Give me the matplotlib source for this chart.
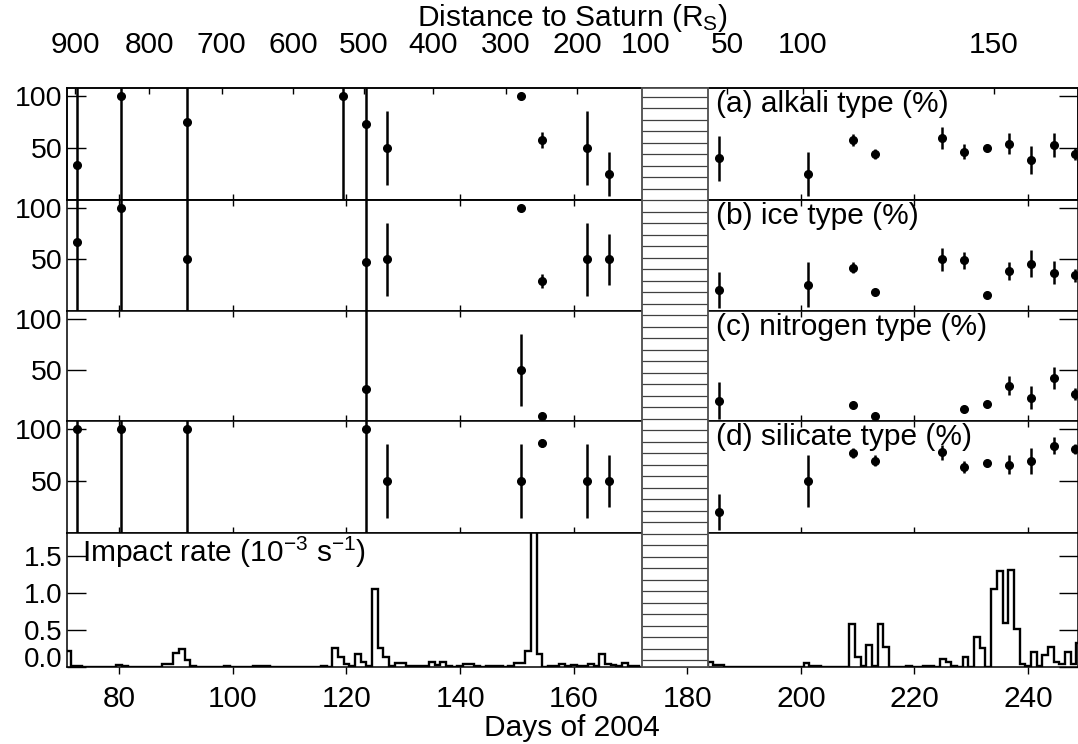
import numpy as np
import matplotlib
matplotlib.use('Agg')
import matplotlib.pyplot as plt

plt.rcParams['font.family'] = ['Liberation Sans', 'DejaVu Sans']
plt.rcParams['mathtext.default'] = 'regular'
plt.rcParams['font.size'] = 21.5
plt.rcParams['axes.linewidth'] = 1.1

# top axis : distance to Saturn (R_S), placed at day positions
dist_days = [72.2, 85.3, 98.0, 110.6, 123.0, 135.3, 148.1, 160.6, 172.6, 187.0, 200.3, 234.0]
dist_labels = ['900', '800', '700', '600', '500', '400', '300', '200', '100', '50', '100', '150']

# (a) alkali type (%)
alk_day = [72.5, 80.3, 92.0, 119.4, 123.4, 127.2, 150.8, 154.4, 162.3, 166.2,
           185.6, 201.3, 209.2, 213.1, 224.9, 228.8, 232.7, 236.6, 240.6, 244.5, 248.2]
alk_val = [33.5, 100, 75, 100, 73, 50, 100, 57.7, 50, 25,
           40, 25, 57.7, 44, 59.4, 46.5, 49.7, 54, 38.4, 53, 44.2]
alk_err = [150, 150, 150, 150, 150, 35.5, 0, 7.5, 35.5, 21.5,
           21.5, 21.5, 5.6, 4.5, 10.3, 6.8, 2.5, 10, 13.7, 11.6, 5.6]

# (b) ice type (%)
ice_day = [72.5, 80.3, 92.0, 123.4, 127.2, 150.8, 154.4, 162.3, 166.2,
           185.6, 201.3, 209.2, 213.1, 224.9, 228.8, 232.7, 236.6, 240.6, 244.5, 248.2]
ice_val = [66.8, 100, 50, 47.4, 50, 100, 29, 50, 50,
           20.3, 25.2, 42, 18.7, 50, 49, 15.2, 38.7, 46, 37, 34.5]
ice_err = [150, 150, 150, 150, 35.5, 0, 6.5, 35.5, 25,
           17.7, 21.8, 5.5, 2, 11, 8, 1.5, 9, 13, 11, 6]

# (c) nitrogen type (%)
nit_day = [123.4, 150.8, 154.4, 185.6, 209.2, 213.1, 228.8, 232.7, 236.6, 240.6, 244.5, 248.2]
nit_val = [31.3, 50, 5, 20, 15.8, 4.5, 11.9, 16.5, 34.5, 22.9, 41.9, 26.5]
nit_err = [150, 35, 1.5, 17.7, 3, 1, 3, 1.5, 9, 11.5, 11, 6]

# (d) silicate type (%)
sil_day = [72.5, 80.3, 92.0, 123.4, 127.2, 150.8, 154.4, 162.3, 166.2,
           185.6, 201.3, 209.2, 213.1, 224.9, 228.8, 232.7, 236.6, 240.6, 244.5, 248.2]
sil_val = [100, 100, 100, 100, 50, 50, 86.5, 50, 50,
           20.3, 50, 76.8, 69.4, 77.4, 63.5, 66.8, 65.5, 69.4, 83.9, 80.6]
sil_err = [150, 150, 150, 150, 35.5, 35.5, 4, 35.5, 25,
           17, 25, 4.5, 5, 7, 6, 2, 9, 12.5, 8, 5]

# impact rate (1e-3 /s), daily bins
rate_day_left = np.arange(71, 172)
rate_left = [0.22, 0.02, 0.01, 0, 0, 0, 0, 0, 0, 0.03,
             0.02, 0, 0, 0, 0, 0, 0, 0.045, 0.045, 0.19,
             0.24, 0.10, 0.01, 0, 0, 0, 0, 0, 0.01, 0,
             0, 0, 0, 0.02, 0.01, 0.015, 0, 0, 0, 0,
             0, 0, 0, 0, 0, 0.01, 0, 0.26, 0.14, 0.04,
             0.015, 0.17, 0.07, 0.01, 1.05, 0.25, 0.13, 0.01, 0.05, 0.05,
             0.02, 0.02, 0.01, 0.01, 0.065, 0.03, 0.065, 0.01, 0, 0.01,
             0.045, 0.045, 0.01, 0, 0.01, 0.02, 0.01, 0, 0.02, 0.055,
             0.055, 0.21, 2.4, 0.18, 0, 0.02, 0.02, 0.045, 0.015, 0.03,
             0.02, 0.02, 0.04, 0.01, 0.17, 0.04, 0.025, 0.02, 0.06, 0.015,
             0.01]
rate_day_right = np.arange(184, 250)
rate_right = [0.07, 0.03, 0.03, 0, 0, 0, 0, 0, 0, 0,
              0, 0, 0, 0, 0, 0, 0, 0.055, 0.02, 0.01,
              0, 0, 0, 0, 0, 0.58, 0.14, 0.01, 0.30, 0.01,
              0.58, 0.27, 0, 0, 0, 0.02, 0, 0, 0.02, 0.02,
              0, 0.11, 0.07, 0.01, 0, 0.13, 0, 0.40, 0.26, 0,
              1.05, 1.30, 0.59, 1.31, 0.52, 0.035, 0.015, 0.20, 0.015, 0.16,
              0.27, 0.07, 0.045, 0.20, 0.045, 0.33]

gap = (172.0, 183.6)   # no data (hatched)
xmin, xmax = 70.8, 248.7

fig = plt.figure(figsize=(10.78, 7.44), dpi=100)
W, H = 1078, 744
L, R = 67 / W, 1077.5 / W
rows = [(88, 200), (200, 311), (311, 421), (421, 533), (533, 667)]
axes = []
for top, bot in rows:
    ax = fig.add_axes([L, 1 - bot / H, R - L, (bot - top) / H])
    ax.set_xlim(xmin, xmax)
    axes.append(ax)

panels = [(alk_day, alk_val, alk_err, '(a) alkali type (%)'),
          (ice_day, ice_val, ice_err, '(b) ice type (%)'),
          (nit_day, nit_val, nit_err, '(c) nitrogen type (%)'),
          (sil_day, sil_val, sil_err, '(d) silicate type (%)')]

for i, (d, v, e, lab) in enumerate(panels):
    ax = axes[i]
    ax.errorbar(d, v, yerr=e, fmt='o', color='k', ms=5.5, elinewidth=1.8, capsize=0)
    ax.set_ylim(0, 107.5)
    ax.set_yticks([50, 100])
    ax.set_yticklabels(['50', '100'])
    ax.tick_params(axis='y', direction='in', length=14, width=1, left=True, right=True,
                   pad=3, labelsize=20.5)
    ax.set_xticks(range(80, 241, 20))
    ax.tick_params(axis='x', direction='in', length=4, width=1, top=(i > 0), bottom=True,
                   labelbottom=False)
    ax.text(0.642, 0.985, lab, transform=ax.transAxes, ha='left', va='top')

# top axis with distances
axt = axes[0].twiny()
axt.set_xlim(xmin, xmax)
axt.set_xticks(dist_days)
axt.set_xticklabels(dist_labels)
axt.tick_params(axis='x', direction='in', length=4, width=1, pad=21)
cx = (L + R) / 2
fig.text(cx, 1 - 25.5 / H, 'Distance to Saturn (R$_S$)', ha='center', va='baseline')

# impact rate histogram
axi = axes[4]
for days, rate, lo, hi in [(rate_day_left, rate_left, xmin - 1, gap[0]),
                           (rate_day_right, rate_right, gap[1], xmax + 1)]:
    edges = np.append(days - 0.5, days[-1] + 0.5)
    edges = np.clip(edges, lo, hi)
    axi.stairs(rate, edges, baseline=0, color='k', lw=1.7)
axi.set_ylim(0, 1.81)
axi.set_yticks([0, 0.5, 1.0, 1.5])
axi.set_yticklabels(['0.0', '0.5', '1.0', '1.5'])
axi.get_yticklabels()[0].set_va('baseline')
axi.tick_params(axis='y', direction='in', length=14, width=1, left=True, right=True,
                pad=3, labelsize=20)
axi.set_xticks(range(80, 241, 20))
axi.tick_params(axis='x', direction='out', length=5, width=1, top=False, pad=8)
fig.text(cx, 1 - 736 / H, 'Days of 2004', ha='center', va='baseline')
axi.text(0.0148, 0.785, r'Impact rate (10$^{-3}$ s$^{-1}$)', transform=axi.transAxes,
         ha='left', va='baseline')

# hatched data gap across all panels
fx0 = L + (gap[0] - xmin) / (xmax - xmin) * (R - L)
fx1 = L + (gap[1] - xmin) / (xmax - xmin) * (R - L)
hpx = rows[-1][1] - rows[0][0]
axh = fig.add_axes([fx0, 1 - rows[-1][1] / H, fx1 - fx0, hpx / H], zorder=5)
axh.set_xlim(0, 1)
axh.set_ylim(0, hpx)
axh.hlines(np.arange(7, hpx, 11.5), 0, 1, color='0.25', lw=0.9)
axh.set_xticks([])
axh.set_yticks([])
for s in axh.spines.values():
    s.set_color('0.3')
    s.set_linewidth(1.3)

fig.savefig('out.png', dpi=100)
